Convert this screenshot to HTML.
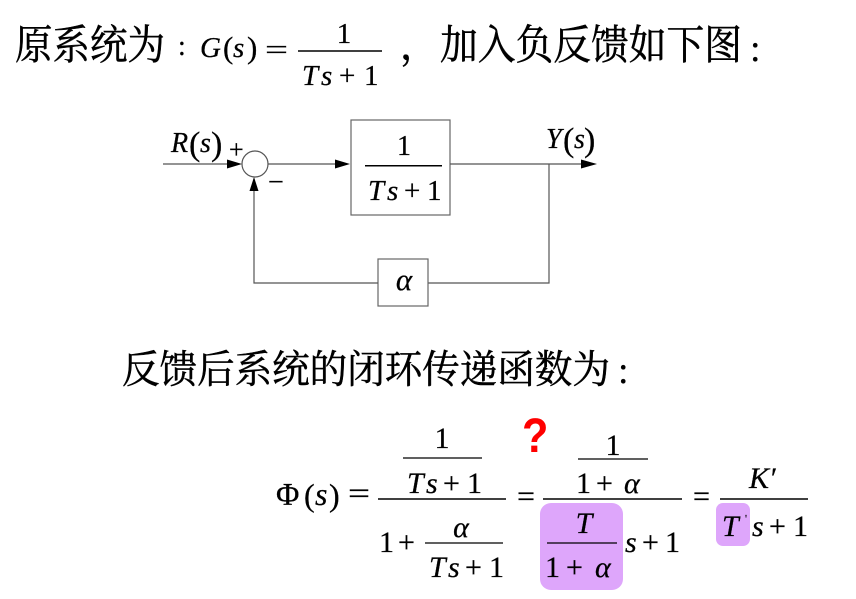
<!DOCTYPE html>
<html>
<head>
<meta charset="utf-8">
<style>
  html,body{margin:0;padding:0;background:#fff;}
  body{width:856px;height:599px;overflow:hidden;}
  svg{display:block;}
  .cjk{font-family:"Liberation Serif","Noto Serif CJK SC","Noto Sans CJK SC",serif;fill:#000;stroke:#000;stroke-width:0.5;}
  .m{font-family:"Liberation Serif","DejaVu Serif",serif;fill:#000;stroke:#000;stroke-width:0.25;}
  .i{font-style:italic;}
</style>
</head>
<body>
<svg width="856" height="599" viewBox="0 0 856 599" xmlns="http://www.w3.org/2000/svg">
  <!-- Header line -->
  <text class="cjk" x="15" y="59" font-size="41" textLength="150" lengthAdjust="spacingAndGlyphs">原系统为</text>
  <text class="m" x="178" y="55" font-size="28">:</text>
  <text class="m i" x="200" y="57" font-size="29">G</text>
  <text class="m" x="223" y="58" font-size="31">(</text>
  <text class="m i" x="233" y="57" font-size="29">s</text>
  <text class="m" x="247" y="58" font-size="31">)</text>
  <text class="m" x="265" y="59" font-size="28" textLength="23" lengthAdjust="spacingAndGlyphs">=</text>
  <line x1="298" y1="51" x2="382" y2="51" stroke="#000" stroke-width="1.5"/>
  <text class="m" x="344" y="43" font-size="29" text-anchor="middle">1</text>
  <g class="m" font-size="29">
    <text class="m i" x="302" y="85">T</text>
    <text class="m i" x="321" y="85">s</text>
    <text class="m" x="339" y="85">+</text>
    <text class="m" x="364" y="85">1</text>
  </g>
  <text class="cjk" x="400" y="59" font-size="38">，</text>
  <text class="cjk" x="440" y="59" font-size="41" textLength="302" lengthAdjust="spacingAndGlyphs">加入负反馈如下图</text>
  <text class="m" x="750" y="61" font-size="38">:</text>

  <!-- Block diagram -->
  <g stroke="#555" stroke-width="1.2" fill="none">
    <line x1="163" y1="164" x2="230" y2="164"/>
    <circle cx="255" cy="164" r="13"/>
    <line x1="268" y1="164" x2="338" y2="164"/>
    <rect x="351" y="120" width="99" height="95" stroke="#666"/>
    <line x1="450" y1="164" x2="584" y2="164"/>
    <polyline points="549,164 549,283 428,283"/>
    <rect x="378" y="259" width="50" height="47" stroke="#666"/>
    <polyline points="378,283 254,283 254,189"/>
  </g>
  <polygon points="242,164 227,159.5 227,168.5" fill="#000"/>
  <polygon points="350,164 335,159.5 335,168.5" fill="#000"/>
  <polygon points="597,164 581,159.5 581,168.5" fill="#000"/>
  <polygon points="254,177 249.5,191 258.5,191" fill="#000"/>

  <text class="m i" x="171" y="152" font-size="28">R</text>
  <text class="m" x="189" y="155" font-size="34">(</text>
  <text class="m i" x="200" y="152" font-size="28">s</text>
  <text class="m" x="211" y="155" font-size="34">)</text>
  <text class="m" x="229" y="158" font-size="26">+</text>
  <text class="m" x="268" y="191" font-size="28">−</text>

  <text class="m" x="404" y="155" font-size="28" text-anchor="middle">1</text>
  <line x1="365" y1="165.7" x2="442" y2="165.7" stroke="#000" stroke-width="1.5"/>
  <g class="m" font-size="29">
    <text class="m i" x="368" y="200">T</text>
    <text class="m i" x="387" y="200">s</text>
    <text class="m" x="404" y="200">+</text>
    <text class="m" x="427" y="200">1</text>
  </g>

  <text class="m i" x="546" y="148" font-size="28">Y</text>
  <text class="m" x="563" y="151" font-size="34">(</text>
  <text class="m i" x="574" y="148" font-size="28">s</text>
  <text class="m" x="584" y="151" font-size="34">)</text>

  <text class="m i" x="404" y="290" font-size="31" text-anchor="middle">α</text>

  <!-- Second line text -->
  <text class="cjk" x="122" y="383" font-size="39" textLength="488" lengthAdjust="spacingAndGlyphs">反馈后系统的闭环传递函数为</text>
  <text class="m" x="618" y="383" font-size="38">:</text>

  <!-- Equation -->
  <text class="m" x="276" y="505" font-size="32">Φ</text>
  <text class="m" x="304" y="506" font-size="32">(</text>
  <text class="m i" x="315" y="505" font-size="32">s</text>
  <text class="m" x="329" y="506" font-size="32">)</text>
  <text class="m" x="348" y="503" font-size="30" textLength="22" lengthAdjust="spacingAndGlyphs">=</text>

  <line x1="378" y1="499" x2="506" y2="499" stroke="#000" stroke-width="1.6"/>
  <text class="m" x="442" y="448" font-size="30" text-anchor="middle">1</text>
  <line x1="403" y1="458" x2="482" y2="458" stroke="#000" stroke-width="1.2"/>
  <g class="m" font-size="30">
    <text class="m i" x="407" y="493">T</text>
    <text class="m i" x="426" y="493">s</text>
    <text class="m" x="443" y="493">+</text>
    <text class="m" x="467" y="493">1</text>
  </g>
  <text class="m" x="379" y="552" font-size="30">1</text>
  <text class="m" x="398" y="552" font-size="30">+</text>
  <text class="m i" x="461" y="537" font-size="30" text-anchor="middle">α</text>
  <line x1="425" y1="543" x2="503" y2="543" stroke="#000" stroke-width="1.2"/>
  <g class="m" font-size="30">
    <text class="m i" x="429" y="577">T</text>
    <text class="m i" x="448" y="577">s</text>
    <text class="m" x="465" y="577">+</text>
    <text class="m" x="489" y="577">1</text>
  </g>

  <text transform="translate(522,452) scale(1.2,1.35)" x="0" y="0" font-size="36" font-weight="bold" fill="#f00" font-family="Liberation Sans, sans-serif">?</text>

  <text class="m" x="517" y="506" font-size="30" textLength="18" lengthAdjust="spacingAndGlyphs">=</text>
  <line x1="543" y1="499" x2="682" y2="499" stroke="#000" stroke-width="1.6"/>
  <text class="m" x="613" y="455" font-size="30" text-anchor="middle">1</text>
  <line x1="578" y1="459" x2="648" y2="459" stroke="#000" stroke-width="1.2"/>
  <g class="m" font-size="30">
    <text class="m" x="576" y="493">1</text>
    <text class="m" x="596" y="493">+</text>
    <text class="m i" x="624" y="493">α</text>
  </g>

  <rect x="540" y="503" width="83" height="87" rx="11" fill="#dea6fb"/>
  <text class="m i" x="584" y="533" font-size="30" text-anchor="middle">T</text>
  <line x1="547" y1="543" x2="617" y2="543" stroke="#000" stroke-width="1.2"/>
  <g class="m" font-size="30">
    <text class="m" x="545" y="577">1</text>
    <text class="m" x="566" y="577">+</text>
    <text class="m i" x="595" y="577">α</text>
  </g>
  <g class="m" font-size="30">
    <text class="m i" x="625" y="552">s</text>
    <text class="m" x="642" y="552">+</text>
    <text class="m" x="665" y="552">1</text>
  </g>

  <text class="m" x="693" y="506" font-size="30" textLength="17" lengthAdjust="spacingAndGlyphs">=</text>
  <line x1="720" y1="499" x2="808" y2="499" stroke="#000" stroke-width="1.6"/>
  <text class="m i" x="749" y="488" font-size="30">K′</text>

  <rect x="716" y="503" width="34" height="43" rx="7" fill="#dea6fb"/>
  <text class="m i" x="722" y="536" font-size="30">T</text>
  <text class="m" x="745" y="522" font-size="11">'</text>
  <g class="m" font-size="30">
    <text class="m i" x="752" y="536">s</text>
    <text class="m" x="769" y="536">+</text>
    <text class="m" x="793" y="536">1</text>
  </g>
</svg>
</body>
</html>
